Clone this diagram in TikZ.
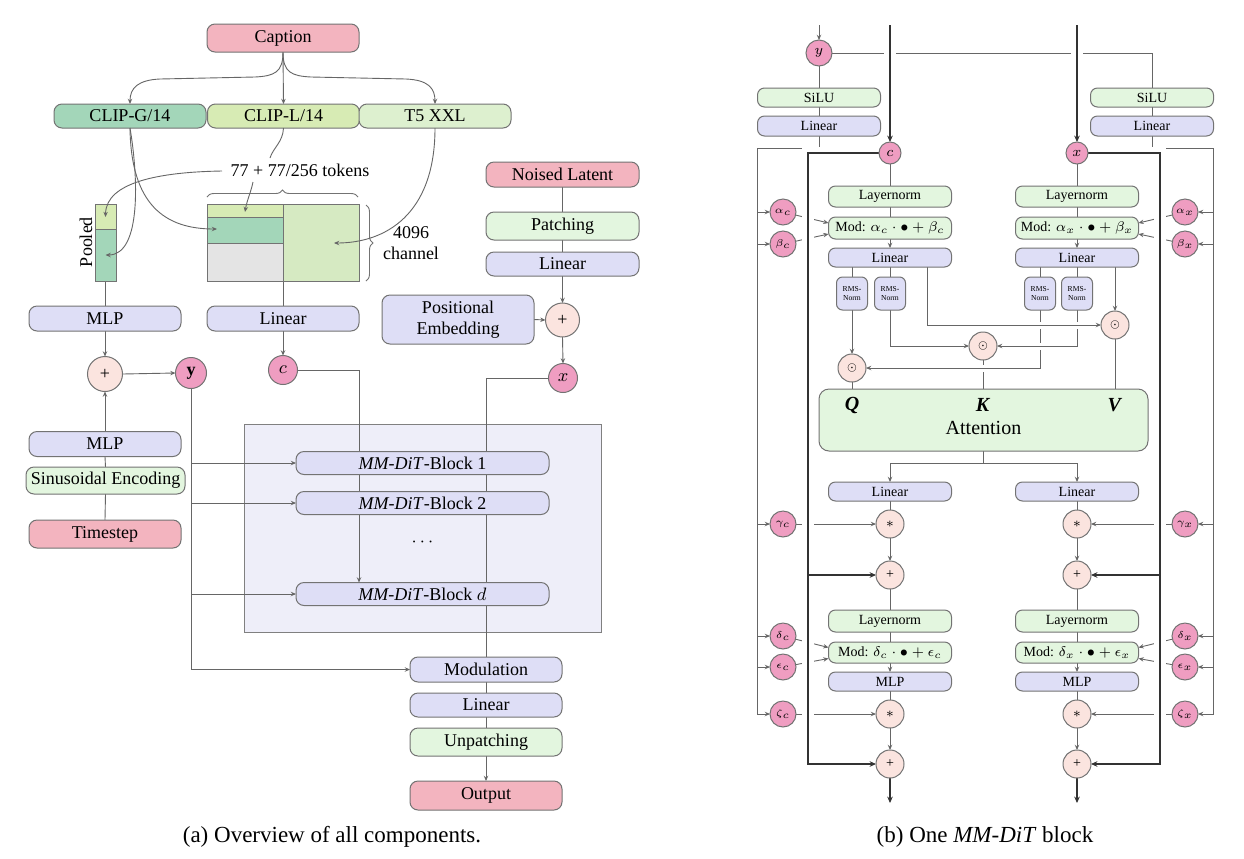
\documentclass[tikz,border=0pt]{standalone}
\usepackage{fontspec}
\setmainfont{Liberation Serif}
\usetikzlibrary{arrows.meta,decorations.pathreplacing,calc}
\pgfdeclarelayer{bg}
\pgfdeclarelayer{edges}
\pgfsetlayers{bg,edges,main}
\definecolor{cpink}{HTML}{F3B4BF}
\definecolor{clav}{HTML}{DEDEF6}
\definecolor{cgreen}{HTML}{E3F6DF}
\definecolor{cclipg}{HTML}{A3D6B9}
\definecolor{cclipl}{HTML}{D7EBB4}
\definecolor{ct5}{HTML}{DDF0CF}
\definecolor{cmag}{HTML}{EF9DC1}
\definecolor{cop}{HTML}{FBE4DF}
\definecolor{cbig}{HTML}{EEEEF9}
\definecolor{cgray}{HTML}{E4E4E4}
\definecolor{cmatr}{HTML}{D6EAC2}
\newcommand\fontL{\fontsize{9}{10.5}\selectfont}
\newcommand\fontR{\fontsize{7}{8}\selectfont}
\newcommand\fontT{\fontsize{3.8}{4.5}\selectfont}
\newcommand\fontG{\fontsize{5}{6}\selectfont}
\newcommand\fontA{\fontsize{10}{12}\selectfont}
\newcommand\fontC{\fontsize{11.5}{13}\selectfont}
\tikzset{
  every node/.style={inner sep=0pt, outer sep=0pt},
  bx/.style={draw=black!55, line width=0.5pt, rounded corners=4pt, minimum width=76pt, minimum height=12.5pt, font=\fontL},
  blk/.style={bx, fill=clav, minimum width=126.5pt, minimum height=11.5pt},
  rbx/.style={draw=black!55, line width=0.5pt, rounded corners=3.5pt, minimum width=61.5pt, minimum height=10pt, font=\fontR},
  rms/.style={draw=black!55, line width=0.5pt, rounded corners=3pt, fill=clav, minimum width=15.5pt, minimum height=16.5pt, font=\fontT, align=center},
  crc/.style={circle, draw=black!55, line width=0.5pt},
  opc/.style={crc, fill=cop},
  mgc/.style={crc, fill=cmag},
  rect/.style={draw=black!55, line width=0.5pt},
  ln/.style={draw=black!60, line width=0.45pt},
  arr/.style={ln, -{Stealth[length=2.6pt,width=2.2pt]}},
  thk/.style={draw=black!80, line width=0.9pt},
  thkarr/.style={thk, -{Stealth[length=3.2pt,width=2.8pt]}},
  gap/.style={preaction={draw=white, line width=3.5pt, arrows=-}},
  widegap/.style={preaction={draw=white, line width=6pt, arrows=-}},
  brc/.style={draw=black!55, line width=0.45pt, decorate, decoration={brace, amplitude=3.5pt}},
}
\begin{document}
\begin{tikzpicture}[x=0.5pt,y=-0.5pt]
\useasboundingbox (0,0) rectangle (1244,858);
\begin{pgfonlayer}{bg}
\fill[white] (0,0) rectangle (1244,858);
\draw[fill=cbig, draw=black!50, line width=0.5pt] (244,424) rectangle (601,632);
\end{pgfonlayer}

% ================= LEFT PANEL =================
\node[bx,fill=cpink,minimum height=14pt] (cap) at (283,38) {Caption};
\node[bx,fill=cclipg,minimum height=12pt] (clipg) at (130,116) {CLIP-G/14};
\node[bx,fill=cclipl,minimum height=12pt] (clipl) at (283.5,116) {CLIP-L/14};
\node[bx,fill=ct5,minimum height=12pt] (t5) at (435,116) {T5 XXL};
\node[font=\fontL] (tok) at (300,170) {77 + 77/256 tokens};

% pooled bar and token matrix
\draw[rect,fill=cclipl] (95,204) rectangle (116,229);
\draw[rect,fill=cclipg] (95,229) rectangle (116,281);
\draw[rect,fill=cmatr] (283,204) rectangle (359,281);
\draw[rect,fill=cclipl] (207,204) rectangle (283,217);
\draw[rect,fill=cclipg] (207,217) rectangle (283,243);
\draw[rect,fill=cgray] (207,243) rectangle (283,281);
\node[rotate=90,font=\fontL] (pooledlbl) at (86,242) {Pooled};
\node[font=\fontL,align=center] (chan) at (411,243) {4096\\channel};
\draw[brc] (207,197) -- (358,197);
\draw[brc] (366,205) -- (366,281);

\coordinate (pooltopA) at (105.5,217);
\coordinate (poolbotA) at (105.5,255);
\coordinate (matTop) at (245,212);
\coordinate (matMid) at (217,229);
\coordinate (matRight) at (334,243);
\coordinate (tokL) at (222,171);
\coordinate (tokB) at (253,182);
\coordinate (tokT) at (270,158);
\coordinate (poolB) at (105,281);
\coordinate (matB) at (283,281);

\draw[arr] (tokL) .. controls (160,172) and (106,182) .. (pooltopA);
\draw[arr] (tokB) .. controls (251,192) and (247,200) .. (matTop);
\draw[ln] (clipl.south) .. controls (283,142) and (273,148) .. (tokT);
\draw[arr] (clipg.south) .. controls (131,205) and (165,229) .. (matMid);
\draw[arr] (clipg.south) .. controls (138,175) and (142,255) .. (poolbotA);
\draw[arr] (t5.south) .. controls (435,215) and (385,243) .. (matRight);

\node[bx,fill=clav] (mlp1) at (105,318.5) {MLP};
\node[bx,fill=clav] (lin1) at (283,318.5) {Linear};
\node[bx,fill=clav,minimum height=24.5pt,align=center] (pos) at (458,319.5) {Positional\\Embedding};
\node[bx,fill=cpink,minimum width=76.5pt] (noised) at (562.5,174.5) {Noised Latent};
\node[bx,fill=cgreen,minimum width=76.5pt,minimum height=14pt] (patch) at (562.5,226) {Patching};
\node[bx,fill=clav,minimum width=76.5pt,minimum height=12pt] (lin2) at (562.5,264) {Linear};
\node[opc,minimum size=17pt,font=\fontL] (plusp) at (562.5,320) {+};
\node[mgc,minimum size=14.5pt,font=\fontL] (xl) at (563,378) {$x$};
\node[opc,minimum size=17.5pt,font=\fontL] (plusl) at (105,374) {+};
\node[mgc,minimum size=15.5pt,font=\fontL] (yl) at (191,373) {\textbf{y}};
\node[mgc,minimum size=14.5pt,font=\fontL] (cl) at (283,370) {$c$};
\node[bx,fill=clav] (mlp2) at (105,444) {MLP};
\node[bx,fill=cgreen,minimum width=79.5pt,minimum height=13.5pt] (sin) at (105.5,480.5) {Sinusoidal Encoding};
\node[bx,fill=cpink,minimum height=14pt] (ts) at (105,534) {Timestep};
\node[blk] (b1) at (422.5,463) {\textit{MM-DiT}-Block 1};
\node[blk] (b2) at (422.5,503) {\textit{MM-DiT}-Block 2};
\node[font=\fontL] (dots) at (422.5,542) {$\cdots$};
\node[blk] (bd) at (422.5,594) {\textit{MM-DiT}-Block $d$};
\node[bx,fill=clav] (modo) at (486,669.5) {Modulation};
\node[bx,fill=clav,minimum height=12pt] (lino) at (486,705) {Linear};
\node[bx,fill=cgreen,minimum height=14pt] (unp) at (486,742) {Unpatching};
\node[bx,fill=cpink,minimum height=14.5pt] (outp) at (486,795.5) {Output};
\node[font=\fontC] (capa) at (332,837) {(a) Overview of all components.};

\coordinate (cj) at (359,463);
\begin{pgfonlayer}{edges}
\draw[arr] (cap.south) -- (clipl.north);
\draw[arr] (cap.south) .. controls (283,72) and (275,76) .. (255,77) -- (160,79) .. controls (138,80) and (130,88) .. (clipg.north);
\draw[arr] (cap.south) .. controls (283,72) and (291,76) .. (311,77) -- (406,79) .. controls (428,80) and (435,88) .. (t5.north);
\draw[ln] (poolB) -- (mlp1.north);
\draw[ln] (matB) -- (lin1.north);
\draw[arr] (mlp1.south) -- (plusl.north);
\draw[arr] (mlp2.north) -- (plusl.south);
\draw[ln] (ts.north) -- (sin.south);
\draw[ln] (sin.north) -- (mlp2.south);
\draw[arr] (plusl.east) -- (yl.west);
\draw[arr] (lin1.south) -- (cl.north);
\draw[ln] (noised.south) -- (patch.north);
\draw[ln] (patch.south) -- (lin2.north);
\draw[arr] (lin2.south) -- (plusp.north);
\draw[arr] (pos.east) -- (plusp.west);
\draw[arr] (plusp.south) -- (xl.north);
\draw[ln] (cl.east) -| (cj);
\draw[arr] (cj) -- (bd.north -| cj);
\draw[ln] (xl.west) -| (modo.north);
\draw[ln] (modo.south) -- (lino.north);
\draw[ln] (lino.south) -- (unp.north);
\draw[arr] (unp.south) -- (outp.north);
\draw[arr] (yl.south) |- (modo.west);
\foreach \b in {b1,b2,bd} \draw[arr] (yl.south |- \b.west) -- (\b.west);
\end{pgfonlayer}

% ================= RIGHT PANEL =================
\node[mgc,minimum size=13pt,font=\fontR] (yr) at (819,53) {$y$};
\node[rbx,fill=cgreen,minimum height=9.5pt] (silul) at (819,97.5) {SiLU};
\node[rbx,fill=clav] (linl) at (819,126) {Linear};
\node[rbx,fill=cgreen,minimum height=9.5pt] (silur) at (1152,97.5) {SiLU};
\node[rbx,fill=clav] (linr) at (1152,126) {Linear};
\node[mgc,minimum size=11pt,font=\fontR] (cr) at (890,153) {$c$};
\node[mgc,minimum size=11pt,font=\fontR] (xr) at (1077,153) {$x$};

\node[rbx,fill=cgreen,minimum height=10.5pt] (lnA) at (890,196.5) {Layernorm};
\node[rbx,fill=cgreen,minimum height=11pt] (modA) at (890,228) {Mod: $\alpha_c\cdot\bullet+\beta_c$};
\node[rbx,fill=clav,minimum height=9.5pt] (linA) at (890,257.5) {Linear};
\node[rbx,fill=cgreen,minimum height=10.5pt] (lnB) at (1077,196.5) {Layernorm};
\node[rbx,fill=cgreen,minimum height=11pt] (modB) at (1077,228) {Mod: $\alpha_x\cdot\bullet+\beta_x$};
\node[rbx,fill=clav,minimum height=9.5pt] (linB) at (1077,257.5) {Linear};

\node[rms] (r1) at (852,293.5) {RMS-\\Norm};
\node[rms] (r2) at (890,293.5) {RMS-\\Norm};
\node[rms] (r3) at (1040,293.5) {RMS-\\Norm};
\node[rms] (r4) at (1077,293.5) {RMS-\\Norm};
\node[opc,minimum size=14pt,font=\fontG] (odR) at (1115,325) {$\odot$};
\node[opc,minimum size=14pt,font=\fontG] (odM) at (983,346) {$\odot$};
\node[opc,minimum size=14pt,font=\fontG] (odL) at (852,368) {$\odot$};

\node[rbx,fill=cgreen,minimum width=164.5pt,minimum height=31pt,rounded corners=5pt] (att) at (983.5,420) {};
\node[font=\fontA] (attT) at (983.5,428) {Attention};
\node[font=\fontA] (q) at (852,405) {\textbf{\textit{Q}}};
\node[font=\fontA] (k) at (983,405) {\textbf{\textit{K}}};
\node[font=\fontA] (v) at (1115,405) {\textbf{\textit{V}}};

\node[rbx,fill=clav,minimum height=9.5pt] (lin2A) at (890,491.5) {Linear};
\node[rbx,fill=clav,minimum height=9.5pt] (lin2B) at (1077,491.5) {Linear};
\node[opc,minimum size=14pt,font=\fontR] (stA) at (890,524) {$*$};
\node[opc,minimum size=14pt,font=\fontR] (stB) at (1077,524) {$*$};
\node[opc,minimum size=14pt,font=\fontR] (p1A) at (890,575) {+};
\node[opc,minimum size=14pt,font=\fontR] (p1B) at (1077,575) {+};
\node[rbx,fill=cgreen,minimum height=11pt] (ln2A) at (890,621) {Layernorm};
\node[rbx,fill=cgreen,minimum height=10.5pt] (mod2A) at (890,652.5) {Mod: $\delta_c\cdot\bullet+\epsilon_c$};
\node[rbx,fill=clav,minimum height=9.5pt] (mlpA) at (890,681.5) {MLP};
\node[rbx,fill=cgreen,minimum height=11pt] (ln2B) at (1077,621) {Layernorm};
\node[rbx,fill=cgreen,minimum height=10.5pt] (mod2B) at (1077,652.5) {Mod: $\delta_x\cdot\bullet+\epsilon_x$};
\node[rbx,fill=clav,minimum height=9.5pt] (mlpB) at (1077,681.5) {MLP};
\node[opc,minimum size=14pt,font=\fontR] (st2A) at (890,714) {$*$};
\node[opc,minimum size=14pt,font=\fontR] (st2B) at (1077,714) {$*$};
\node[opc,minimum size=14pt,font=\fontR] (p2A) at (890,764) {+};
\node[opc,minimum size=14pt,font=\fontR] (p2B) at (1077,764) {+};

\node[mgc,minimum size=13pt,font=\fontG] (alc) at (783,212) {$\alpha_c$};
\node[mgc,minimum size=13pt,font=\fontG] (bec) at (783,244) {$\beta_c$};
\node[mgc,minimum size=13pt,font=\fontG] (gac) at (783,524) {$\gamma_c$};
\node[mgc,minimum size=13pt,font=\fontG] (dec) at (783,636) {$\delta_c$};
\node[mgc,minimum size=13pt,font=\fontG] (epc) at (783,667) {$\epsilon_c$};
\node[mgc,minimum size=13pt,font=\fontG] (zec) at (783,714) {$\zeta_c$};
\node[mgc,minimum size=13pt,font=\fontG] (alx) at (1185,212) {$\alpha_x$};
\node[mgc,minimum size=13pt,font=\fontG] (bex) at (1185,244) {$\beta_x$};
\node[mgc,minimum size=13pt,font=\fontG] (gax) at (1185,524) {$\gamma_x$};
\node[mgc,minimum size=13pt,font=\fontG] (dex) at (1185,636) {$\delta_x$};
\node[mgc,minimum size=13pt,font=\fontG] (epx) at (1185,667) {$\epsilon_x$};
\node[mgc,minimum size=13pt,font=\fontG] (zex) at (1185,714) {$\zeta_x$};

\node[font=\fontC] (capb) at (985,837) {(b) One \textit{MM-DiT} block};

\coordinate (ctop) at (890,25);
\coordinate (xtop) at (1077,25);
\coordinate (ytop) at (819,25);
\coordinate (oblt) at (757,148);
\coordinate (oblb) at (757,714);
\coordinate (obrt) at (1213,148);
\coordinate (obrb) at (1213,714);
\coordinate (iblb) at (808,764);
\coordinate (ibrb) at (1160,764);
\coordinate (outA) at (890,803);
\coordinate (outB) at (1077,803);
\coordinate (vA) at (927,324);

\begin{pgfonlayer}{edges}
\draw[ln] (yr.east) -| (silur.north);
\draw[thkarr,widegap] (ctop) -- (cr.north);
\draw[thkarr,widegap] (xtop) -- (xr.north);
\draw[arr] (ytop) -- (yr.north);
\draw[ln] (yr.south) -- (silul.north);
\draw[ln] (silul.south) -- (linl.north);
\draw[ln] (silur.south) -- (linr.north);
\draw[arr] (linl.south) |- (oblt) -- (oblb) -- (zec.west);
\draw[arr] (linr.south) |- (obrt) -- (obrb) -- (zex.east);
\foreach \n in {alc,bec,gac,dec,epc} \draw[arr] (oblt |- \n) -- (\n.west);
\foreach \n in {alx,bex,gax,dex,epx} \draw[arr] (obrt |- \n) -- (\n.east);
\draw[arr] (alc) -- ($(modA.west)+(0,-5)$);
\draw[arr] (bec) -- ($(modA.west)+(0,6)$);
\draw[arr] (dec) -- ($(mod2A.west)+(0,-5)$);
\draw[arr] (epc) -- ($(mod2A.west)+(0,6)$);
\draw[arr] (gac) -- (stA.west);
\draw[arr] (zec) -- (st2A.west);
\draw[arr] (alx) -- ($(modB.east)+(0,-5)$);
\draw[arr] (bex) -- ($(modB.east)+(0,6)$);
\draw[arr] (dex) -- ($(mod2B.east)+(0,-5)$);
\draw[arr] (epx) -- ($(mod2B.east)+(0,6)$);
\draw[arr] (gax) -- (stB.east);
\draw[arr] (zex) -- (st2B.east);
% residual buses
\draw[thkarr,widegap] (cr.west) -| (iblb) -- (p2A.west);
\draw[thkarr] (iblb |- p1A) -- (p1A.west);
\draw[thkarr,widegap] (xr.east) -| (ibrb) -- (p2B.east);
\draw[thkarr] (ibrb |- p1B) -- (p1B.east);
% column c
\draw[ln] (cr.south) -- (lnA.north);
\draw[ln] (lnA.south) -- (modA.north);
\draw[arr] (modA.south) -- (linA.north);
\draw[ln] (linA.south -| r1) -- (r1.north);
\draw[ln] (linA.south) -- (r2.north);
\draw[arr] (r1.south) -- (odL.north);
\draw[arr] (r2.south) |- (odM.west);
% column x
\draw[ln] (xr.south) -- (lnB.north);
\draw[ln] (lnB.south) -- (modB.north);
\draw[arr] (modB.south) -- (linB.north);
\draw[ln] (linB.south -| r3) -- (r3.north);
\draw[ln] (linB.south) -- (r4.north);
\draw[arr] (linB.south -| odR) -- (odR.north);
% crossings
\draw[ln] (odM.south) -- (odM.south |- att.north);
\draw[arr,gap] (r3.south) |- (odL.east);
\draw[arr,gap] (r4.south) |- (odM.east);
\draw[arr,gap] (linA.south -| vA) |- (odR.west);
\draw[ln] (odL.south) -- (odL.south |- att.north);
\draw[ln] (odR.south) -- (odR.south |- att.north);
% after attention
\draw[arr] (att.south) -- ++(0,12) -| (lin2A.north);
\draw[arr] (att.south) -- ++(0,12) -| (lin2B.north);
\draw[ln] (lin2A.south) -- (stA.north);
\draw[arr] (stA.south) -- (p1A.north);
\draw[ln] (p1A.south) -- (ln2A.north);
\draw[ln] (ln2A.south) -- (mod2A.north);
\draw[arr] (mod2A.south) -- (mlpA.north);
\draw[ln] (mlpA.south) -- (st2A.north);
\draw[arr] (st2A.south) -- (p2A.north);
\draw[thkarr] (p2A.south) -- (outA);
\draw[ln] (lin2B.south) -- (stB.north);
\draw[arr] (stB.south) -- (p1B.north);
\draw[ln] (p1B.south) -- (ln2B.north);
\draw[ln] (ln2B.south) -- (mod2B.north);
\draw[arr] (mod2B.south) -- (mlpB.north);
\draw[ln] (mlpB.south) -- (st2B.north);
\draw[arr] (st2B.south) -- (p2B.north);
\draw[thkarr] (p2B.south) -- (outB);
\end{pgfonlayer}
\end{tikzpicture}
\end{document}
